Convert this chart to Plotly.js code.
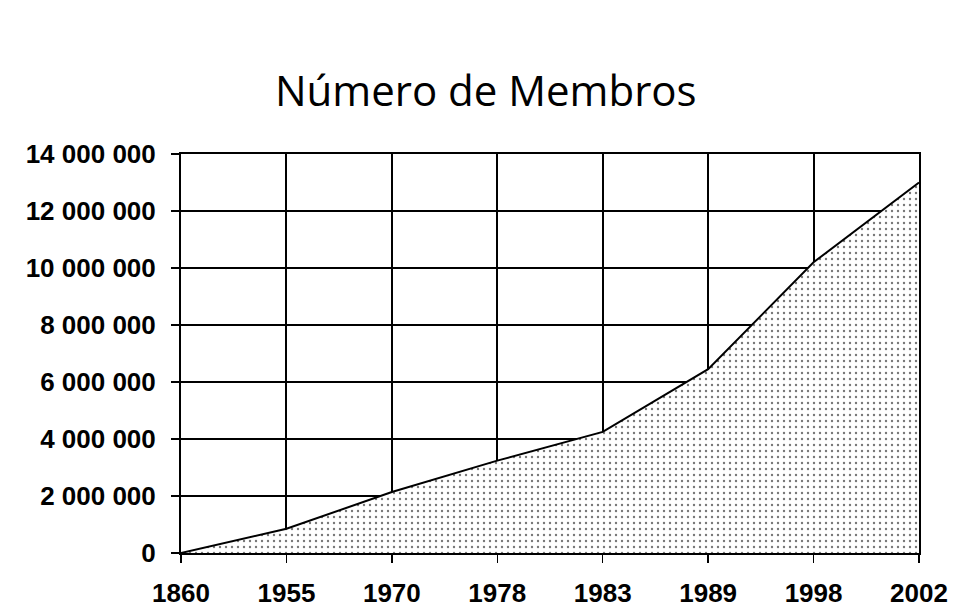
<!DOCTYPE html>
<html>
<head>
<meta charset="utf-8">
<script src="https://cdn.plot.ly/plotly-3.0.1.min.js"></script>
<style>html,body{margin:0;padding:0;background:#fff;}#chart{width:960px;height:615px;}</style>
</head>
<body>
<div id="chart"></div>
<script>
const years = ["1860", "1955", "1970", "1978", "1983", "1989", "1998", "2002"];
const members = [0, 850000, 2140000, 3240000, 4250000, 6450000, 10200000, 13000000];
const yTicks = [0, 2000000, 4000000, 6000000, 8000000, 10000000, 12000000, 14000000];
const titleText = "Número de Membros";

const trace = {
  x: years,
  y: members,
  type: "scatter",
  mode: "lines",
  line: {color: "#000", width: 2},
  fill: "tozeroy",
  fillcolor: "rgba(255,255,255,1)",
  fillpattern: {shape: ".", bgcolor: "#ffffff", fgcolor: "#777777", size: 6, solidity: 0.12},
  hoverinfo: "skip"
};

const layout = {
  width: 960, height: 615,
  paper_bgcolor: "#fff", plot_bgcolor: "#fff",
  margin: {l: 181, r: 41, t: 154, b: 62},
  separators: ", ",
  showlegend: false,
  title: {
    text: titleText,
    font: {family: "Open Sans", size: 42, color: "#000"},
    x: 0.506, xref: "container", xanchor: "center",
    y: 0.852, yref: "container", yanchor: "middle"
  },
  xaxis: {
    type: "category",
    range: [0, 7],
    showgrid: true, gridcolor: "#000", gridwidth: 2,
    showline: true, linecolor: "#000", linewidth: 2, mirror: true,
    ticks: "outside", ticklen: 8, tickcolor: "#000", tickwidth: 1.5,
    tickfont: {family: "Liberation Sans", size: 26, color: "#000", weight: "bold"},
    ticklabelstandoff: 8,
    zeroline: false, fixedrange: true
  },
  yaxis: {
    range: [0, 14000000],
    tickvals: yTicks,
    tickformat: ",d",
    showgrid: true, gridcolor: "#000", gridwidth: 2,
    showline: true, linecolor: "#000", linewidth: 2, mirror: true,
    ticks: "outside", ticklen: 8, tickcolor: "#000", tickwidth: 1.5,
    tickfont: {family: "Liberation Sans", size: 26, color: "#000", weight: "bold"},
    ticklabelstandoff: 10,
    zeroline: false, fixedrange: true
  }
};

Plotly.newPlot("chart", [trace], layout, {displayModeBar: false, staticPlot: true});
</script>
</body>
</html>
